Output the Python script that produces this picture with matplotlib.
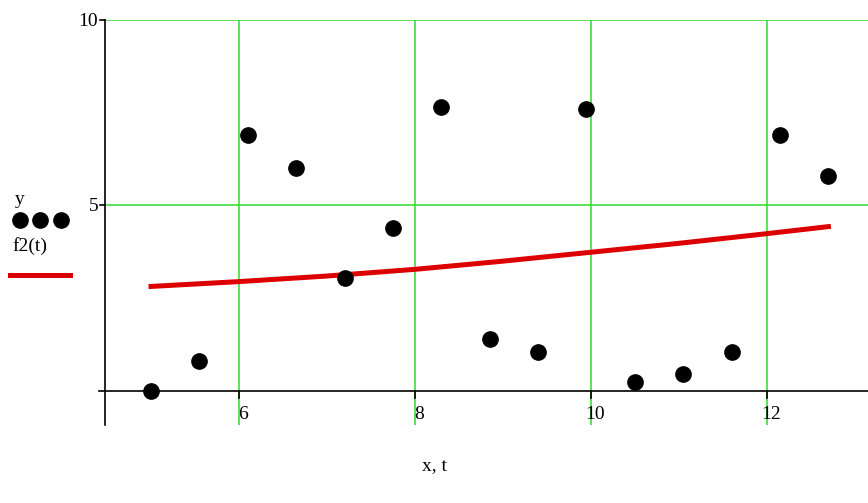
import matplotlib
matplotlib.use('Agg')
import matplotlib.pyplot as plt

# data
x_pts = [5.0, 5.55, 6.1, 6.65, 7.2, 7.75, 8.3, 8.85, 9.4, 9.95, 10.5, 11.05, 11.6, 12.15, 12.7]
y_pts = [0.0, 0.8, 6.9, 6.0, 3.05, 4.4, 7.65, 1.4, 1.05, 7.6, 0.25, 0.45, 1.05, 6.9, 5.8]

t_vals = [5.0, 6.0, 7.0, 8.0, 9.0, 10.0, 11.0, 12.0, 12.7]
f2_vals = [2.82, 2.95, 3.10, 3.28, 3.50, 3.74, 3.98, 4.24, 4.43]

x_ticks = [6, 8, 10, 12]
y_ticks = [5, 10]

plt.rcParams['font.family'] = ['Liberation Serif', 'DejaVu Serif']

fig = plt.figure(figsize=(8.68, 5.03), dpi=100)
ax = fig.add_axes([0.121, 0.155, 0.879, 0.806])
ax.set_xlim(4.477, 13.15)
ax.set_ylim(-0.91, 10)

# green grid
for xt in x_ticks:
    ax.axvline(xt, color='#3ddd3d', lw=1.2, zorder=1)
for yt in y_ticks:
    ax.axhline(yt, color='#3ddd3d', lw=1.2, zorder=1)

# axes lines (Mathcad style, crossing at zero)
for s in ['top', 'right', 'bottom']:
    ax.spines[s].set_visible(False)
ax.spines['left'].set_color('black')
ax.spines['left'].set_linewidth(1.2)
ax.axhline(0, xmin=-0.008, color='black', lw=1.2, zorder=2, clip_on=False)

ax.set_xticks([])
ax.set_yticks([])

# tick marks and labels
for xt in x_ticks:
    ax.plot([xt, xt], [0, -0.18], color='black', lw=1.2, zorder=2)
    ax.annotate(str(xt), (xt, 0), xytext=(3, -17), textcoords='offset points',
                ha='center', va='center', fontsize=14)
for yt in y_ticks:
    ax.plot([4.42, 4.477], [yt, yt], color='black', lw=1.2, zorder=2, clip_on=False)
    ax.annotate(str(yt), (4.477, yt), xytext=(-5, -1), textcoords='offset points',
                ha='right', va='center', fontsize=14)

# series
ax.plot(t_vals, f2_vals, color='#dd0000', lw=3.6, zorder=3)
ax.plot(x_pts, y_pts, 'o', color='black', markersize=11, zorder=4)

# axis label
fig.text(435 / 868, 1 - 466 / 503, 'x, t', ha='center', va='center', fontsize=14)

# Mathcad-like legend on the left
fig.text(15 / 868, 1 - 200 / 503, 'y', ha='left', va='center', fontsize=14)
for px in [20, 40, 61]:
    fig.add_artist(plt.Line2D([px / 868], [1 - 220 / 503], marker='o', color='black',
                              markersize=11, transform=fig.transFigure))
fig.text(12 / 868, 1 - 246 / 503, 'f2(t)', ha='left', va='center', fontsize=14)
fig.add_artist(plt.Line2D([10 / 868, 70 / 868], [1 - 275 / 503, 1 - 275 / 503],
                          color='#dd0000', lw=3.6, transform=fig.transFigure))

fig.savefig('out.png', dpi=100)
